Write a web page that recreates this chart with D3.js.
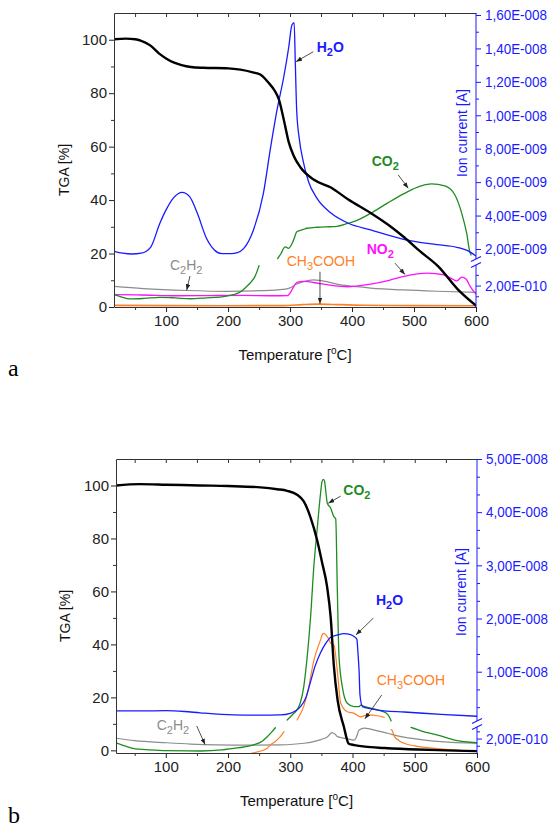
<!DOCTYPE html>
<html><head><meta charset="utf-8">
<script src="https://cdn.jsdelivr.net/npm/d3@7"></script>
<style>body{margin:0;background:#fff}svg{display:block;background:#fff}</style>
</head><body>
<svg width="559" height="833"></svg>
<script>
// ---------------- DATA ----------------
const X_TICKS = [100, 200, 300, 400, 500, 600];
const X_MINOR = [50, 150, 250, 350, 450, 550];
const TOP_TICKS = [50, 100, 150, 200, 250, 300, 350, 400, 450, 500, 550];
const TGA_TICKS = [0, 20, 40, 60, 80, 100];
const TGA_MINOR = [10, 30, 50, 70, 90];

// Panel a (temperature °C, TGA %)
const tgaA = [[16,100.2],[35,100.4],[50,100.2],[60,99.6],[75,97.8],[90,94.6],[100,93],[112,91.5],[125,90.5],[140,89.8],[160,89.5],[200,89.3],[220,88.8],[240,87.8],[252,87],[265,84],[275,81],[282,77.7],[290,70],[298,61.6],[306,56.5],[317,52.2],[338,47.7],[366,44.7],[394,40.2],[430,35.2],[460,30.5],[485,25.9],[510,20.8],[539,15.2],[571,6.5],[600,0.5]];
// Panel a ion currents (A)
const h2oA = [[16,1.86e-9],[30,1.75e-9],[45,1.70e-9],[60,1.75e-9],[75,2.10e-9],[90,3.54e-9],[100,4.34e-9],[112,5.06e-9],[126,5.39e-9],[138,5.13e-9],[150,4.18e-9],[165,2.66e-9],[178,1.94e-9],[190,1.72e-9],[205,1.72e-9],[215,1.78e-9],[225,2.02e-9],[241,3.14e-9],[257,5.33e-9],[268,7.93e-9],[279,1.032e-8],[290,1.232e-8],[298,1.410e-8],[303,1.540e-8],[306.6,1.554e-8],[308.5,1.313e-8],[310.7,1.032e-8],[315,8.57e-9],[321,7.29e-9],[330,6.01e-9],[343,5.06e-9],[365,4.18e-9],[394,3.54e-9],[430,3.14e-9],[483,2.58e-9],[537,2.26e-9],[569,2.10e-9],[590,1.83e-9],[600,1.58e-9]];
const co2A_low = [[16,1.15e-10],[25,1.0e-10],[42,0.75e-10],[65,0.8e-10],[90,0.9e-10],[115,0.85e-10],[139,0.77e-10],[165,0.85e-10],[187,0.93e-10],[205,1.1e-10],[214,1.25e-10],[222,1.5e-10],[230,1.92e-10],[238,2.4e-10],[243.5,2.86e-10],[250,3.86e-10]];
const co2A_high = [[280,1.42e-9],[285,1.70e-9],[292,2.13e-9],[297.6,2.04e-9],[305.7,2.53e-9],[311,3.03e-9],[321.7,3.17e-9],[327,3.24e-9],[345,3.30e-9],[364.6,3.33e-9],[375.6,3.35e-9],[394,3.54e-9],[402.6,3.63e-9],[430,4.13e-9],[457,4.74e-9],[484.7,5.33e-9],[511.5,5.77e-9],[528,5.89e-9],[549.7,5.77e-9],[566,5.23e-9],[577,4.13e-9],[585,2.93e-9],[590,1.83e-9],[592,1.64e-9]];
const c2h2A = [[16,1.92e-10],[63,1.72e-10],[133,1.54e-10],[198,1.46e-10],[252,1.52e-10],[289,1.64e-10],[300,1.79e-10],[310,2.12e-10],[321.6,2.37e-10],[338,2.54e-10],[350,2.46e-10],[359,2.37e-10],[375.6,2.14e-10],[400,1.94e-10],[430,1.77e-10],[483,1.59e-10],[537,1.47e-10],[600,1.37e-10]];
const no2A = [[16,1.15e-10],[60,1.12e-10],[117,1.05e-10],[175,1.07e-10],[225,1.08e-10],[270,1.05e-10],[296,1.07e-10],[300,1.3e-10],[305,1.8e-10],[311,2.29e-10],[322,2.39e-10],[348,2.19e-10],[370,1.99e-10],[392,1.89e-10],[430,2.14e-10],[460,2.49e-10],[484,2.86e-10],[521,3.16e-10],[548,3.01e-10],[562,2.61e-10],[569,2.44e-10],[577,2.79e-10],[584,2.61e-10],[591,1.87e-10],[600,1.20e-10]];
const ch3coohA = [[16,0.15e-10],[100,0.13e-10],[200,0.12e-10],[290,0.13e-10],[320,0.22e-10],[345,0.27e-10],[380,0.22e-10],[420,0.16e-10],[500,0.13e-10],[600,0.12e-10]];

// Panel b
const tgaB = [[20,100],[58,100.5],[100,100.3],[155,100],[200,99.8],[252,99.3],[279,98.6],[295,98],[311,96.5],[321.7,94],[332.5,88],[343,79.5],[351,71],[359,62],[365,50],[370,32],[376,19],[386,9],[394,2.5],[403,2],[420,1.4],[451,0.9],[505,0.3],[550,0],[600,-0.3]];
const h2oB = [[20,2.62e-9],[60,2.62e-9],[101,2.67e-9],[130,2.52e-9],[155,2.27e-9],[209,1.87e-9],[250,1.82e-9],[284,1.87e-9],[300,2.17e-9],[316,3.37e-9],[325,5.11e-9],[332.5,8.10e-9],[340,1.109e-8],[348.6,1.358e-8],[357,1.533e-8],[365,1.648e-8],[376,1.692e-8],[386,1.717e-8],[397,1.697e-8],[403,1.657e-8],[407,1.608e-8],[409,1.309e-8],[410.6,1.010e-8],[412,5.61e-9],[416,3.42e-9],[430,3.02e-9],[451,2.62e-9],[483,2.42e-9],[542,1.97e-9],[600,1.62e-9]];
const co2B_low1 = [[20,1.42e-10],[30,1.1e-10],[47,0.65e-10],[75,0.43e-10],[101,0.32e-10],[155,0.28e-10],[190,0.43e-10],[209,0.65e-10],[225,0.83e-10],[241,1.13e-10],[255,1.64e-10],[263,2.26e-10],[270,2.89e-10],[276,3.5e-10]];
const co2B_high = [[295,0.92e-9],[303,1.87e-9],[311,2.87e-9],[316,4.11e-9],[321.7,7.20e-9],[327,1.259e-8],[332.5,2.006e-8],[338,3.003e-8],[343,3.651e-8],[348.6,4.349e-8],[351,4.573e-8],[353,4.618e-8],[355,4.588e-8],[357,4.399e-8],[359.5,4.169e-8],[365,4.075e-8],[370,3.915e-8],[373,3.875e-8],[375.6,2.535e-8],[378.3,1.284e-8],[383.6,7.20e-9],[391.6,4.06e-9],[402.6,3.42e-9],[410.6,3.42e-9],[413,3.72e-9],[420,3.42e-9],[440,2.82e-9],[453.5,2.27e-9],[459,1.52e-9],[462,0.75e-9]];
const co2B_low2 = [[494,3.55e-10],[510,3.07e-10],[537,2.48e-10],[564,1.79e-10],[600,1.42e-10]];
const ch3coohB_low1 = [[238,0],[250,0.21e-10],[263,0.65e-10],[268,1.13e-10],[276,1.6e-10],[284,2.26e-10],[290,2.96e-10]];
const ch3coohB_high = [[311,0.92e-9],[316.8,2.17e-9],[322,3.62e-9],[327.5,5.91e-9],[338,1.219e-8],[348.6,1.598e-8],[352,1.707e-8],[354,1.722e-8],[359.6,1.657e-8],[365,1.533e-8],[370,1.503e-8],[376,9.70e-9],[381,4.06e-9],[391.6,2.47e-9],[402.6,2.17e-9],[413,1.52e-9],[424,1.87e-9],[440,1.72e-9],[451,1.42e-9]];
const ch3coohB_low2 = [[462,3.25e-10],[464,3.07e-10],[467,2.34e-10],[475,1.71e-10],[483,1.35e-10],[500,0.98e-10],[532,0.65e-10],[560,0.43e-10],[600,0.21e-10]];
const c2h2B = [[20,2.04e-10],[50,1.71e-10],[101,1.42e-10],[140,1.24e-10],[182,1.13e-10],[230,1.09e-10],[284,1.13e-10],[322,1.35e-10],[349,1.86e-10],[360,2.26e-10],[367,2.81e-10],[372,2.59e-10],[376,2.26e-10],[390,2.01e-10],[403,1.79e-10],[406,2.15e-10],[410.6,3.18e-10],[419,3.44e-10],[440,3.07e-10],[456,2.74e-10],[478,2.26e-10],[510,1.86e-10],[542,1.57e-10],[600,1.35e-10]];

// Right (ion current) axis ticks
const ionTicksA = [2e-10, 2e-9, 4e-9, 6e-9, 8e-9, 1e-8, 1.2e-8, 1.4e-8, 1.6e-8];
const ionLabelsA = ["2,00E-010","2,00E-009","4,00E-009","6,00E-009","8,00E-009","1,00E-008","1,20E-008","1,40E-008","1,60E-008"];
const ionMinorA = [1e-10, 3e-10, 3e-9, 5e-9, 7e-9, 9e-9, 1.1e-8, 1.3e-8, 1.5e-8];
const ionTicksB = [2e-10, 1e-8, 2e-8, 3e-8, 4e-8, 5e-8];
const ionLabelsB = ["2,00E-010","1,00E-008","2,00E-008","3,00E-008","4,00E-008","5,00E-008"];
const ionMinorB = [1e-10, 3e-10, 3.33e-9, 6.67e-9, 1.333e-8, 1.667e-8, 2.333e-8, 2.667e-8, 3.333e-8, 3.667e-8, 4.333e-8, 4.667e-8];

// Annotations: text segments (odd index = subscript), text anchor [T, TGA], arrow [[T,TGA],[T,TGA]]
const annA = [
  {seg:["H","2","O"], color:"blue", bold:true, at:[343,95.5], arrow:[[337.4,95.5],[309.6,91.8]]},
  {seg:["CO","2"], color:"green", bold:true, at:[431.7,52.9], arrow:[[474.6,49.4],[490.7,44.4]]},
  {seg:["NO","2"], color:"magenta", bold:true, at:[423.6,19.8], arrow:[[469.3,16.4],[485.4,12.2]]},
  {seg:["CH","3","COOH"], color:"orange", bold:false, at:[294.6,15.3], arrow:[[348.3,13.2],[348.3,1.2]]},
  {seg:["C","2","H","2"], color:"gray", bold:false, at:[106.3,14.0], arrow:[[138.6,11.6],[133.3,6.3]]}
];
const annB = [
  {seg:["CO","2"], color:"green", bold:true, at:[385.2,96.4], arrow:[[381,96.0],[361.1,93.3]]},
  {seg:["H","2","O"], color:"blue", bold:true, at:[437.7,54.9], arrow:[[433.4,49.9],[405.6,43.6]]},
  {seg:["CH","3","COOH"], color:"orange", bold:false, at:[438.9,24.7], arrow:[[446.9,20.9],[420,11.9]]},
  {seg:["C","2","H","2"], color:"gray", bold:false, at:[85.4,7.7], arrow:[[149.7,9.2],[163,2.2]]}
];

// ---------------- DRAWING ----------------
const COL = {blue:"#1a1aff", green:"#1f8c1f", magenta:"#ff10ff", orange:"#ff7f24", gray:"#8c8c8c", black:"#000000"};
const FONT = "'Liberation Sans', Arial, Helvetica, sans-serif";
const AXC = "#333";
const svg = d3.select("svg");
const defs = svg.append("defs");
defs.append("marker").attr("id","ah").attr("viewBox","0 0 8 6").attr("refX",8).attr("refY",3)
  .attr("markerWidth",6).attr("markerHeight",4.5).attr("markerUnits","userSpaceOnUse").attr("orient","auto")
  .append("path").attr("d","M0,0L8,3L0,6Z").attr("fill","#222");

function panel(cfg) {
  const g = svg.append("g");
  const x = d3.scaleLinear().domain(cfg.xDomain).range([cfg.left, cfg.right]);
  const y = d3.scaleLinear().domain(cfg.tgaDomain).range([cfg.bottom, cfg.top]);
  const yr = d3.scaleLinear().domain(cfg.ionDomain).range(cfg.ionRange);

  const clipId = "clip" + cfg.id;
  defs.append("clipPath").attr("id", clipId).append("rect")
    .attr("x", cfg.left).attr("y", cfg.top).attr("width", cfg.right - cfg.left).attr("height", cfg.bottom - cfg.top);
  const plot = g.append("g").attr("clip-path", `url(#${clipId})`);
  const lineT = d3.line().x(d => x(d[0])).y(d => y(d[1])).curve(d3.curveMonotoneX);
  const lineI = d3.line().x(d => x(d[0])).y(d => yr(d[1])).curve(d3.curveMonotoneX);
  cfg.series.forEach(s => {
    plot.append("path").attr("d", (s.axis === "tga" ? lineT : lineI)(s.data))
      .attr("fill","none").attr("stroke", COL[s.color]).attr("stroke-width", s.width)
      .attr("stroke-linejoin","round").attr("stroke-linecap","round");
  });

  function styleAxis(sel, color, size) {
    sel.selectAll("path.domain").attr("stroke", color).attr("stroke-width", 1);
    sel.selectAll(".tick line").attr("stroke", color).attr("stroke-width", 1);
    sel.selectAll("text").attr("fill", color).style("font-family", FONT).style("font-size", size + "px");
  }
  // left
  const al = g.append("g").attr("transform", `translate(${cfg.left},0)`)
    .call(d3.axisLeft(y).tickValues(TGA_TICKS).tickSize(5).tickPadding(2).tickSizeOuter(0));
  styleAxis(al, "#222", 15);
  al.select("path.domain").attr("stroke", AXC);
  const alm = g.append("g").attr("transform", `translate(${cfg.left},0)`)
    .call(d3.axisLeft(y).tickValues(TGA_MINOR).tickSize(3).tickFormat(""));
  alm.select(".domain").remove(); styleAxis(alm, AXC, 15);
  // bottom
  const ab = g.append("g").attr("transform", `translate(0,${cfg.bottom})`)
    .call(d3.axisBottom(x).tickValues(X_TICKS).tickSize(5).tickPadding(3).tickSizeOuter(0));
  styleAxis(ab, "#222", 15);
  ab.select("path.domain").attr("stroke", AXC);
  const abm = g.append("g").attr("transform", `translate(0,${cfg.bottom})`)
    .call(d3.axisBottom(x).tickValues(X_MINOR).tickSize(3).tickFormat(""));
  abm.select(".domain").remove(); styleAxis(abm, AXC, 15);
  // top (ticks inward)
  const at = g.append("g").attr("transform", `translate(0,${cfg.top})`)
    .call(d3.axisBottom(x).tickValues(TOP_TICKS).tickSize(4).tickFormat("").tickSizeOuter(0));
  styleAxis(at, AXC, 15);
  // right (broken ion axis)
  const ar = g.append("g").attr("transform", `translate(${cfg.right},0)`)
    .call(d3.axisRight(yr).tickValues(cfg.ionTicks).tickFormat((d, i) => cfg.ionLabels[i]).tickSize(5).tickPadding(4));
  ar.select(".domain").remove();
  styleAxis(ar, COL.blue, 15);
  ar.selectAll("text").attr("textLength", 62).attr("lengthAdjust", "spacingAndGlyphs");
  const arm = g.append("g").attr("transform", `translate(${cfg.right},0)`)
    .call(d3.axisRight(yr).tickValues(cfg.ionMinor).tickSize(3).tickFormat(""));
  arm.select(".domain").remove(); styleAxis(arm, COL.blue, 15);
  const r = cfg.ionRange;
  g.append("line").attr("x1", cfg.right).attr("x2", cfg.right).attr("y1", r[0]).attr("y2", r[1]).attr("stroke", COL.blue);
  g.append("line").attr("x1", cfg.right).attr("x2", cfg.right).attr("y1", r[2]).attr("y2", r[3]).attr("stroke", COL.blue);
  [r[1], r[2]].forEach(yy => {
    g.append("line").attr("x1", cfg.right - 5).attr("x2", cfg.right + 5).attr("y1", yy + 2.5).attr("y2", yy - 2.5)
      .attr("stroke", COL.blue).attr("stroke-width", 1.2);
  });

  // annotations
  cfg.ann.forEach(a => {
    const [p0, p1] = a.arrow;
    g.append("line").attr("x1", x(p0[0])).attr("y1", y(p0[1])).attr("x2", x(p1[0])).attr("y2", y(p1[1]))
      .attr("stroke", "#222").attr("stroke-width", 0.8).attr("marker-end", "url(#ah)");
    const t = g.append("text").attr("x", x(a.at[0])).attr("y", y(a.at[1]))
      .attr("fill", COL[a.color]).style("font-family", FONT).style("font-size", "14px")
      .style("font-weight", a.bold ? "bold" : "normal");
    let sub = false;
    a.seg.forEach((s, i) => {
      const isSub = i % 2 === 1;
      const ts = t.append("tspan").text(s);
      if (isSub) ts.attr("dy", 4).style("font-size", "11px");
      else if (i > 0) ts.attr("dy", -4);
    });
  });

  // axis titles
  g.append("text").attr("transform", `translate(${cfg.tgaLabel[0]},${cfg.tgaLabel[1]}) rotate(-90)`)
    .attr("text-anchor", "middle").style("font-family", FONT).style("font-size", "14px").attr("fill", "#111")
    .text("TGA [%]");
  g.append("text").attr("transform", `translate(${cfg.ionLabel[0]},${cfg.ionLabel[1]}) rotate(-90)`)
    .attr("text-anchor", "middle").style("font-family", FONT).style("font-size", "14px").attr("fill", COL.blue)
    .text("Ion current [A]");
  const xt = g.append("text").attr("x", (cfg.left + cfg.right) / 2).attr("y", cfg.xLabelY)
    .attr("text-anchor", "middle").style("font-family", FONT).style("font-size", "15px").attr("fill", "#111");
  xt.append("tspan").text("Temperature [");
  xt.append("tspan").text("o").attr("dy", -6).style("font-size", "10px");
  xt.append("tspan").text("C]").attr("dy", 6);
  g.append("text").attr("x", 8).attr("y", cfg.letterY).style("font-family", "'Liberation Serif', 'Times New Roman', serif")
    .style("font-size", "24px").attr("fill", "#000").text(cfg.letter);
}

panel({
  id: "a", left: 114, right: 476, top: 13, bottom: 307,
  xDomain: [16, 600], tgaDomain: [0, 110],
  ionDomain: [0, 3.92e-10, 1.40e-9, 1.612e-8], ionRange: [307, 265, 259, 13],
  ionTicks: ionTicksA, ionLabels: ionLabelsA, ionMinor: ionMinorA,
  series: [
    {data: ch3coohA, axis: "ion", color: "orange", width: 1.6},
    {data: c2h2A, axis: "ion", color: "gray", width: 1.2},
    {data: no2A, axis: "ion", color: "magenta", width: 1.3},
    {data: co2A_low, axis: "ion", color: "green", width: 1.3},
    {data: co2A_high, axis: "ion", color: "green", width: 1.3},
    {data: h2oA, axis: "ion", color: "blue", width: 1.3},
    {data: tgaA, axis: "tga", color: "black", width: 2.4}
  ],
  ann: annA,
  tgaLabel: [69, 170], ionLabel: [467, 133], xLabelY: 360, letter: "a", letterY: 376
});

panel({
  id: "b", left: 116, right: 477, top: 459, bottom: 753,
  xDomain: [20, 600], tgaDomain: [-1, 110],
  ionDomain: [0, 3.6e-10, 0.73e-9, 5e-8], ionRange: [753, 727, 721, 459],
  ionTicks: ionTicksB, ionLabels: ionLabelsB, ionMinor: ionMinorB,
  series: [
    {data: c2h2B, axis: "ion", color: "gray", width: 1.2},
    {data: ch3coohB_low1, axis: "ion", color: "orange", width: 1.2},
    {data: ch3coohB_high, axis: "ion", color: "orange", width: 1.2},
    {data: ch3coohB_low2, axis: "ion", color: "orange", width: 1.2},
    {data: co2B_low1, axis: "ion", color: "green", width: 1.3},
    {data: co2B_high, axis: "ion", color: "green", width: 1.3},
    {data: co2B_low2, axis: "ion", color: "green", width: 1.3},
    {data: h2oB, axis: "ion", color: "blue", width: 1.3},
    {data: tgaB, axis: "tga", color: "black", width: 2.4}
  ],
  ann: annB,
  tgaLabel: [70, 616], ionLabel: [466, 592], xLabelY: 806, letter: "b", letterY: 823
});
</script>
</body></html>
